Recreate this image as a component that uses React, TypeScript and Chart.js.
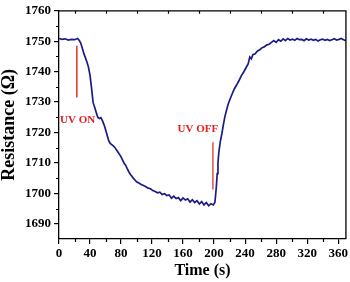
import React, { useEffect, useRef } from 'react';
import { Chart, registerables } from 'chart.js';

Chart.register(...registerables);

const times = [
  0, 4, 8, 12, 16, 20, 24, 26, 28, 30, 32, 34, 36, 38, 40, 42, 44, 46, 48, 50,
  52, 54, 56, 58, 60, 62, 64, 66, 68, 70, 72, 74, 76, 78, 80, 82, 84, 86, 88, 90,
  92, 94, 96, 98, 100, 103, 106, 109, 112, 115, 118, 121, 124, 127, 130, 133, 136, 139, 142, 145,
  148, 151, 154, 157, 160, 163, 166, 169, 172, 175, 178, 181, 184, 187, 190, 193, 196, 199, 201, 202,
  203, 204, 205, 206, 208, 210, 212, 214, 216, 218, 220, 223, 226, 229, 232, 235, 238, 241, 244, 246,
  248, 250, 253, 256, 259, 262, 265, 268, 271, 274, 277, 280, 283, 286, 289, 292, 295, 298, 301, 304,
  307, 310, 313, 316, 319, 322, 325, 328, 331, 334, 337, 340, 343, 346, 349, 352, 355, 358, 361, 364,
  367, 370,
];

const resistance = [
  1750.9, 1750.6, 1750.8, 1750.4, 1750.6, 1750.5, 1750.9, 1750.3, 1749.4, 1747.8, 1746.0, 1744.6, 1743.2, 1741.5, 1738.8, 1734.5, 1729.8, 1728.3, 1726.6, 1725.0,
  1724.6, 1724.9, 1723.9, 1722.6, 1721.0, 1719.2, 1717.4, 1716.4, 1716.0, 1715.6, 1715.1, 1714.3, 1713.6, 1712.8, 1712.0, 1710.9, 1709.9, 1709.2, 1708.1, 1707.1,
  1706.3, 1705.6, 1704.9, 1704.4, 1703.8, 1703.4, 1702.9, 1702.6, 1702.2, 1701.7, 1701.5, 1700.9, 1700.6, 1700.2, 1700.4, 1699.6, 1699.9, 1699.3, 1699.5, 1698.4,
  1699.1, 1698.3, 1698.6, 1697.6, 1698.5, 1697.8, 1698.2, 1697.1, 1697.9, 1697.0, 1697.6, 1696.5, 1697.3, 1696.2, 1697.0, 1695.9, 1696.6, 1696.2, 1697.0, 1699.5,
  1702.5, 1706.5, 1710.0, 1713.2, 1717.0, 1719.6, 1722.6, 1725.3, 1727.3, 1729.2, 1730.6, 1732.5, 1734.3, 1735.6, 1737.0, 1738.6, 1739.8, 1741.2, 1742.6, 1744.8,
  1744.2, 1745.6, 1745.9, 1746.8, 1747.2, 1747.9, 1748.2, 1748.8, 1749.0, 1749.6, 1750.2, 1749.6, 1750.5, 1750.0, 1750.8, 1750.2, 1750.9, 1750.4, 1750.7, 1750.3,
  1750.9, 1750.5, 1750.6, 1750.2, 1750.8, 1750.4, 1750.7, 1750.3, 1750.6, 1750.1, 1750.5, 1750.7, 1750.3, 1750.6, 1750.2, 1750.5, 1750.8, 1750.4, 1750.6, 1750.9,
  1750.5, 1750.2,
];

const xTickValues = [0, 40, 80, 120, 160, 200, 240, 280, 320, 360];
const yTickValues = [1690, 1700, 1710, 1720, 1730, 1740, 1750, 1760];
const xMinorTicks = [20, 60, 100, 140, 180, 220, 260, 300, 340];
const yMinorTicks = [1695, 1705, 1715, 1725, 1735, 1745, 1755];
const xRange = [0, 370];
const yRange = [1685, 1760];

const uvOnLineX = [23, 23];
const uvOnLineY = [1748.5, 1731.5];
const uvOffLineX = [198.5, 198.5];
const uvOffLineY = [1716.8, 1701.3];

const annotationTexts = ['UV ON', 'UV OFF'];
const annotationX = [0, 179];
const annotationY = [1724, 1721];
const annotationAlign: CanvasTextAlign[] = ['left', 'center'];

const FONT = '"Liberation Serif", "Times New Roman", serif';

const extrasPlugin = {
  id: 'extras',
  afterDraw(chart: any) {
    const { ctx, chartArea, scales } = chart;
    const xs = scales.x;
    const ys = scales.y;
    ctx.save();
    ctx.strokeStyle = '#000';
    ctx.lineWidth = 1.3;
    ctx.beginPath();
    ctx.moveTo(chartArea.left, chartArea.top);
    ctx.lineTo(chartArea.right, chartArea.top);
    ctx.lineTo(chartArea.right, chartArea.bottom);
    ctx.stroke();
    ctx.lineWidth = 1.2;
    ctx.beginPath();
    xMinorTicks.forEach((v) => {
      const px = Math.round(xs.getPixelForValue(v)) + 0.5;
      ctx.moveTo(px, chartArea.bottom);
      ctx.lineTo(px, chartArea.bottom + 3);
      ctx.moveTo(px, chartArea.top);
      ctx.lineTo(px, chartArea.top + 3);
    });
    yMinorTicks.forEach((v) => {
      const py = Math.round(ys.getPixelForValue(v)) + 0.5;
      ctx.moveTo(chartArea.left, py);
      ctx.lineTo(chartArea.left - 3, py);
    });
    ctx.stroke();
    ctx.fillStyle = '#e3201f';
    ctx.font = 'bold 11px ' + FONT;
    ctx.textBaseline = 'middle';
    annotationTexts.forEach((t, i) => {
      ctx.textAlign = annotationAlign[i];
      ctx.fillText(t, xs.getPixelForValue(annotationX[i]) + (i === 0 ? 1 : 0), ys.getPixelForValue(annotationY[i]));
    });
    ctx.restore();
  },
};

export default function App() {
  const ref = useRef<HTMLCanvasElement | null>(null);
  useEffect(() => {
    document.body.style.margin = '0';
    const canvas = ref.current;
    if (!canvas) return;
    const chart = new Chart(canvas, {
      type: 'line',
      data: {
        datasets: [
          {
            data: times.map((t, i) => ({ x: t, y: resistance[i] })),
            borderColor: '#1b1b86',
            borderWidth: 1.7,
            pointRadius: 0,
            tension: 0,
          },
          {
            data: uvOnLineX.map((x, i) => ({ x, y: uvOnLineY[i] })),
            borderColor: '#e3201f',
            borderWidth: 1.4,
            pointRadius: 0,
          },
          {
            data: uvOffLineX.map((x, i) => ({ x, y: uvOffLineY[i] })),
            borderColor: '#e3201f',
            borderWidth: 1.2,
            pointRadius: 0,
          },
        ],
      },
      options: {
        animation: false,
        responsive: false,
        maintainAspectRatio: false,
        layout: { padding: { left: 0, top: 6, right: 3, bottom: 0 } },
        plugins: { legend: { display: false }, tooltip: { enabled: false } },
        scales: {
          x: {
            type: 'linear',
            min: xRange[0],
            max: xRange[1],
            afterBuildTicks: (s: any) => {
              s.ticks = xTickValues.map((v) => ({ value: v }));
            },
            afterFit: (s: any) => {
              s.height = 43;
            },
            grid: { display: true, drawOnChartArea: false, drawTicks: true, tickLength: 5, color: '#000', lineWidth: 1.2 },
            border: { display: true, color: '#000', width: 1.3 },
            ticks: {
              color: '#000',
              padding: 2,
              maxRotation: 0,
              callback: (v: any) => String(v),
              font: { family: FONT, size: 13, weight: 'bold' },
            },
            title: {
              display: true,
              text: 'Time (s)',
              color: '#000',
              font: { family: FONT, size: 16, weight: 'bold', lineHeight: 1 },
              padding: { top: 0, bottom: 3 },
            },
          },
          y: {
            type: 'linear',
            min: yRange[0],
            max: yRange[1],
            afterBuildTicks: (s: any) => {
              s.ticks = yTickValues.map((v) => ({ value: v }));
            },
            afterFit: (s: any) => {
              s.width = 59;
            },
            grid: { display: true, drawOnChartArea: false, drawTicks: true, tickLength: 5, color: '#000', lineWidth: 1.2 },
            border: { display: true, color: '#000', width: 1.3 },
            ticks: {
              color: '#000',
              padding: 3,
              callback: (v: any) => String(v),
              font: { family: FONT, size: 13, weight: 'bold' },
            },
            title: {
              display: true,
              text: 'Resistance (Ω)',
              color: '#000',
              font: { family: FONT, size: 18, weight: 'bold', lineHeight: 1 },
              padding: { top: 0, bottom: 0 },
            },
          },
        },
      },
      plugins: [extrasPlugin],
    });
    return () => chart.destroy();
  }, []);
  return <canvas ref={ref} width={350} height={282} style={{ display: 'block', width: 350, height: 282 }} />;
}
